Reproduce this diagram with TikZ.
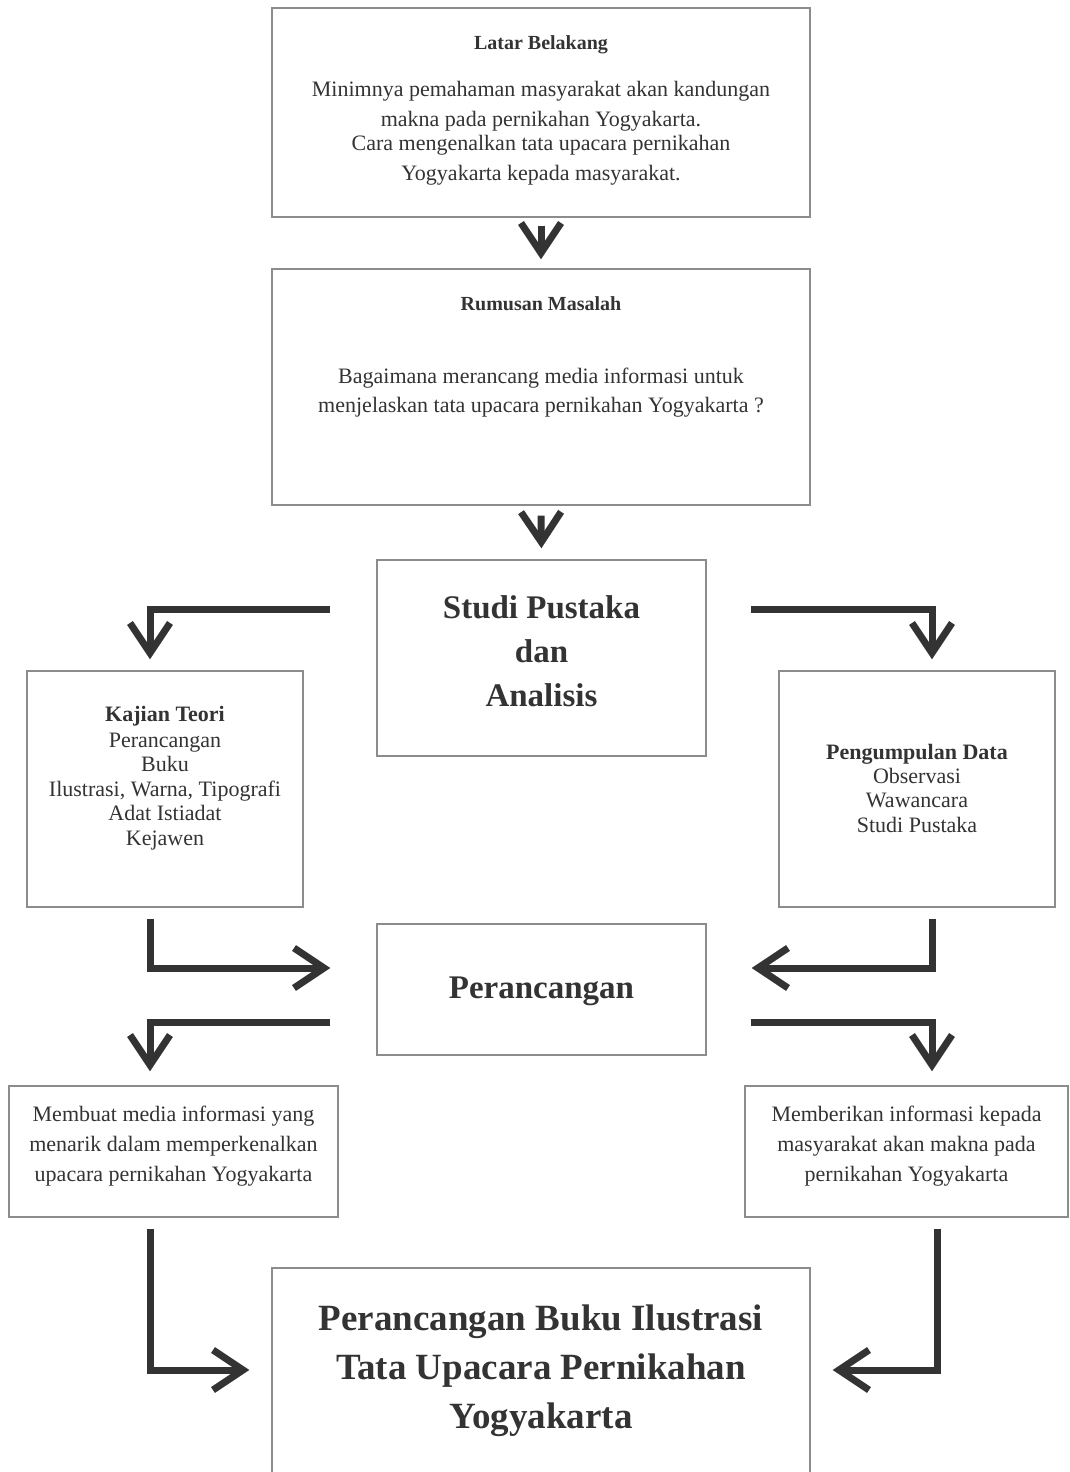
\documentclass[tikz,border=0pt]{standalone}
\usepackage{fontspec}
\setmainfont{Liberation Serif}
\usetikzlibrary{arrows.meta,calc}
\definecolor{ink}{HTML}{333333}
\definecolor{frame}{HTML}{8C8C8C}
\begin{document}
\begin{tikzpicture}[x=1pt,y=-1pt,
  box/.style={draw=frame,line width=1.4pt,inner sep=0pt,fill=none},
  txt/.style={anchor=base,text=ink,inner sep=0pt,font=\fontsize{22}{26}\selectfont},
  hd/.style={txt,font=\fontsize{20}{24}\selectfont\bfseries},
  kb/.style={txt,font=\fontsize{22}{26}\selectfont\bfseries},
  big/.style={txt,font=\fontsize{33}{40}\selectfont\bfseries},
  huge/.style={txt,font=\fontsize{37}{44}\selectfont\bfseries},
  flow/.style={draw=ink,line width=7pt,line join=miter,-{Straight Barb[length=30pt,width=40pt]}}]
\useasboundingbox (0,0) rectangle (1069,1472);
% boxes
\node[box,minimum width=538pt,minimum height=209pt] (latar) at (541,112.5) {};
\node[box,minimum width=538pt,minimum height=236pt] (rumusan) at (541,387) {};
\node[box,minimum width=329pt,minimum height=196pt] (studi) at (541.5,658) {};
\node[box,minimum width=276pt,minimum height=236pt] (kajian) at (165,789) {};
\node[box,minimum width=276pt,minimum height=236pt] (data) at (917,789) {};
\node[box,minimum width=329pt,minimum height=131pt] (peranc) at (541.5,989.5) {};
\node[box,minimum width=329pt,minimum height=131pt] (membuat) at (173.5,1151.5) {};
\node[box,minimum width=323pt,minimum height=131pt] (memberi) at (906.5,1151.5) {};
\node[box,minimum width=538pt,minimum height=222pt] (final) at (541,1379) {};
% texts
\node[hd] (t11) at (541,49) {Latar Belakang};
\node[txt] (t12) at (541,96) {Minimnya pemahaman masyarakat akan kandungan};
\node[txt] (t13) at (541,126) {makna pada pernikahan Yogyakarta.};
\node[txt] (t14) at (541,150) {Cara mengenalkan tata upacara pernikahan};
\node[txt] (t15) at (541,180) {Yogyakarta kepada masyarakat.};
\node[hd] (t21) at (541,310) {Rumusan Masalah};
\node[txt] (t22) at (541,383) {Bagaimana merancang media informasi untuk};
\node[txt] (t23) at (541,412) {menjelaskan tata upacara pernikahan Yogyakarta ?};
\node[big] (t31) at (541.5,618) {Studi Pustaka};
\node[big] (t32) at (541.5,662) {dan};
\node[big] (t33) at (541.5,706) {Analisis};
\node[kb] (t41) at (165,721) {Kajian Teori};
\node[txt] (t42) at (165,747) {Perancangan};
\node[txt] (t43) at (165,771) {Buku};
\node[txt] (t44) at (165,796) {Ilustrasi, Warna, Tipografi};
\node[txt] (t45) at (165,820) {Adat Istiadat};
\node[txt] (t46) at (165,845) {Kejawen};
\node[kb] (t51) at (917,759) {Pengumpulan Data};
\node[txt] (t52) at (917,783) {Observasi};
\node[txt] (t53) at (917,807) {Wawancara};
\node[txt] (t54) at (917,832) {Studi Pustaka};
\node[big] (t61) at (541.5,998) {Perancangan};
\node[txt] (t71) at (173.5,1121) {Membuat media informasi yang};
\node[txt] (t72) at (173.5,1151) {menarik dalam memperkenalkan};
\node[txt] (t73) at (173.5,1181) {upacara pernikahan Yogyakarta};
\node[txt] (t81) at (906.5,1121) {Memberikan informasi kepada};
\node[txt] (t82) at (906.5,1151) {masyarakat akan makna pada};
\node[txt] (t83) at (906.5,1181) {pernikahan Yogyakarta};
\node[huge] (t91) at (541,1330) {Perancangan Buku Ilustrasi};
\node[huge] (t92) at (541,1379) {Tata Upacara Pernikahan};
\node[huge] (t93) at (541,1428) {Yogyakarta};
% start points of the bent connectors
\coordinate (sL1) at (330,609);
\coordinate (sR1) at (751,609);
\coordinate (sL2) at (330,1022);
\coordinate (sR2) at (751,1022);
% connectors
\draw[flow,shorten <=8pt,shorten >=9pt] (latar.south) -- (rumusan.north);
\draw[flow,shorten <=10pt,shorten >=11pt] (rumusan.south) -- (studi.north);
\draw[flow,shorten >=11pt] (sL1) -| ([xshift=-15pt]kajian.north);
\draw[flow,shorten >=11pt] (sR1) -| ([xshift=15pt]data.north);
\draw[flow,shorten <=11pt,shorten >=46pt] ([xshift=-15pt]kajian.south) |- ([yshift=21.5pt]peranc.west);
\draw[flow,shorten <=11pt,shorten >=45pt] ([xshift=15pt]data.south) |- ([yshift=21.5pt]peranc.east);
\draw[flow,shorten >=14pt] (sL2) -| ([xshift=-23.5pt]membuat.north);
\draw[flow,shorten >=14pt] (sR2) -| ([xshift=25.5pt]memberi.north);
\draw[flow,shorten <=11pt,shorten >=22pt] ([xshift=-23.5pt]membuat.south) |- ([yshift=9pt]final.west);
\draw[flow,shorten <=11pt,shorten >=22pt] ([xshift=30.5pt]memberi.south) |- ([yshift=9pt]final.east);
\end{tikzpicture}
\end{document}
